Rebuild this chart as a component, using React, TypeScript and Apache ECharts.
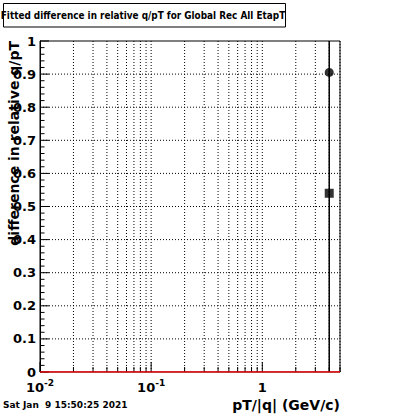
import React, { useEffect, useRef } from 'react';
import * as echarts from 'echarts';

const titleText = 'Fitted difference in relative q/pT for Global Rec All EtapT';
const yTitle = 'difference in relative q/pT';
const xTitle = 'pT/|q| (GeV/c)';
const dateText = 'Sat Jan  9 15:50:25 2021';

const xRange = [0.01, 5];
const yRange = [0, 1];
const xDecades = [0.01, 0.1, 1];
const yLabelValues = [0, 0.1, 0.2, 0.3, 0.4, 0.5, 0.6, 0.7, 0.8, 0.9, 1];

const circlePoints = [[4, 0.905]];
const squarePoints = [[4, 0.54]];
const squareErrors = [0.6];
const fitLine = [[0.01, 0], [5, 0]];

// axis decorations
const xGridVals: number[] = [];
const xTickVals: { v: number; major: boolean }[] = [];
xDecades.forEach((d) => {
  for (let k = 1; k <= 9; k++) {
    const v = d * k;
    if (v > xRange[1] + 1e-9) break;
    if (v > xRange[0] + 1e-9) xGridVals.push(v);
    xTickVals.push({ v, major: k === 1 });
  }
});
const yGridVals = yLabelValues.filter((v) => v > 0 && v < 1);
const yTickVals: { v: number; major: boolean }[] = [];
for (let i = 0; i <= 50; i++) {
  yTickVals.push({ v: i / 50, major: i % 5 === 0 });
}

const FONT = "'DejaVu Sans', sans-serif";

export default function App() {
  const ref = useRef<HTMLDivElement>(null);
  useEffect(() => {
    if (!ref.current) return;
    const chart = echarts.init(ref.current, null, { renderer: 'svg' });
    const dotted = { stroke: '#000', lineWidth: 1, lineDash: [1, 2] };
    const option: any = {
      animation: false,
      backgroundColor: '#fff',
      grid: {
        left: 40,
        right: 60,
        top: 41,
        bottom: 42,
        show: true,
        borderColor: '#000',
        borderWidth: 1,
        backgroundColor: 'transparent',
      },
      xAxis: {
        type: 'log',
        logBase: 10,
        min: xRange[0],
        max: xRange[1],
        axisLine: { show: false },
        axisTick: { show: false },
        splitLine: { show: false },
        axisLabel: {
          margin: 6,
          showMaxLabel: false,
          formatter: (v: number) => {
            const l = Math.log10(v);
            const e = Math.round(l);
            if (Math.abs(l - e) > 1e-6) return '';
            if (e === 0) return '{b|1}';
            return `{b|10}{s|${e}}`;
          },
          rich: {
            b: { fontFamily: FONT, fontWeight: 'bold', fontSize: 13, color: '#000', lineHeight: 18 },
            s: { fontFamily: FONT, fontWeight: 'bold', fontSize: 9, color: '#000', verticalAlign: 'top', lineHeight: 18 },
          },
        },
      },
      yAxis: {
        type: 'value',
        min: yRange[0],
        max: yRange[1],
        interval: 0.1,
        axisLine: { show: true, lineStyle: { color: '#000', width: 1 } },
        axisTick: { show: false },
        splitLine: { show: false },
        axisLabel: {
          margin: 4,
          fontFamily: FONT,
          fontWeight: 'bold',
          fontSize: 13,
          color: '#000',
          formatter: (v: number) => (v === 0 ? '0' : v === 1 ? '1' : v.toFixed(1)),
        },
      },
      series: [
        {
          type: 'custom',
          silent: true,
          data: xGridVals.map((v) => [v, 0]),
          encode: { x: 0, y: 1 },
          renderItem: (params: any, api: any) => {
            const a = api.coord([api.value(0), yRange[0]]);
            const b = api.coord([api.value(0), yRange[1]]);
            return { type: 'line', shape: { x1: a[0], y1: a[1], x2: b[0], y2: b[1] }, style: dotted };
          },
        },
        {
          type: 'custom',
          silent: true,
          data: yGridVals.map((v) => [xRange[0], v]),
          encode: { x: 0, y: 1 },
          renderItem: (params: any, api: any) => {
            const a = api.coord([xRange[0], api.value(1)]);
            const b = api.coord([xRange[1], api.value(1)]);
            return { type: 'line', shape: { x1: a[0], y1: a[1], x2: b[0], y2: b[1] }, style: dotted };
          },
        },
        {
          type: 'custom',
          silent: true,
          data: xTickVals.map((t) => [t.v, 0, t.major ? 1 : 0]),
          encode: { x: 0, y: 1 },
          renderItem: (params: any, api: any) => {
            const a = api.coord([api.value(0), yRange[0]]);
            const len = api.value(2) ? 10 : 5;
            return {
              type: 'line',
              shape: { x1: a[0], y1: a[1], x2: a[0], y2: a[1] - len },
              style: { stroke: '#000', lineWidth: 1 },
            };
          },
        },
        {
          type: 'custom',
          silent: true,
          data: yTickVals.map((t) => [xRange[0], t.v, t.major ? 1 : 0]),
          encode: { x: 0, y: 1 },
          renderItem: (params: any, api: any) => {
            const a = api.coord([xRange[0], api.value(1)]);
            const len = api.value(2) ? 9 : 4.5;
            return {
              type: 'line',
              shape: { x1: a[0], y1: a[1], x2: a[0] + len, y2: a[1] },
              style: { stroke: '#000', lineWidth: 1 },
            };
          },
        },
        {
          type: 'line',
          data: fitLine,
          symbol: 'none',
          lineStyle: { color: '#ff0000', width: 1.5 },
          silent: true,
        },
        {
          type: 'custom',
          silent: true,
          data: squarePoints.map((p, i) => [p[0], p[1], squareErrors[i]]),
          encode: { x: 0, y: 1 },
          renderItem: (params: any, api: any) => {
            const x = api.value(0);
            const y = api.value(1);
            const e = api.value(2);
            const lo = Math.max(yRange[0], y - e);
            const hi = Math.min(yRange[1], y + e);
            const a = api.coord([x, lo]);
            const b = api.coord([x, hi]);
            return {
              type: 'line',
              shape: { x1: a[0], y1: a[1], x2: b[0], y2: b[1] },
              style: { stroke: '#000', lineWidth: 1.5 },
            };
          },
        },
        {
          type: 'scatter',
          data: circlePoints,
          symbol: 'circle',
          symbolSize: 9,
          itemStyle: { color: '#000' },
          silent: true,
        },
        {
          type: 'scatter',
          data: squarePoints,
          symbol: 'rect',
          symbolSize: 9,
          itemStyle: { color: '#000' },
          silent: true,
        },
      ],
      graphic: [
        {
          type: 'rect',
          shape: { x: 3.5, y: 3.5, width: 282, height: 23.5 },
          style: { fill: '#fff', stroke: '#000', lineWidth: 1 },
          z: 10,
        },
        {
          type: 'text',
          x: 143,
          y: 15.5,
          z: 11,
          style: {
            text: titleText,
            fontFamily: "'DejaVu Sans Condensed', 'DejaVu Sans', sans-serif",
            fontWeight: 'bold',
            fontSize: 9.9,
            fill: '#000',
            textAlign: 'center',
            textVerticalAlign: 'middle',
          },
        },
        {
          type: 'text',
          x: 14,
          y: 41,
          rotation: Math.PI / 2,
          z: 11,
          style: {
            text: yTitle,
            fontFamily: FONT,
            fontWeight: 'bold',
            fontSize: 14,
            fill: '#000',
            textAlign: 'right',
            textVerticalAlign: 'middle',
          },
        },
        {
          type: 'text',
          x: 340,
          y: 405,
          z: 11,
          style: {
            text: xTitle,
            fontFamily: FONT,
            fontWeight: 'bold',
            fontSize: 14,
            fill: '#000',
            textAlign: 'right',
            textVerticalAlign: 'middle',
          },
        },
        {
          type: 'text',
          x: 3,
          y: 405,
          z: 11,
          style: {
            text: dateText,
            fontFamily: FONT,
            fontWeight: 'bold',
            fontSize: 9,
            fill: '#000',
            textAlign: 'left',
            textVerticalAlign: 'middle',
          },
        },
      ],
    };
    chart.setOption(option);
    return () => chart.dispose();
  }, []);
  return <div ref={ref} style={{ width: 400, height: 414, position: 'absolute', left: 0, top: 0 }} />;
}
